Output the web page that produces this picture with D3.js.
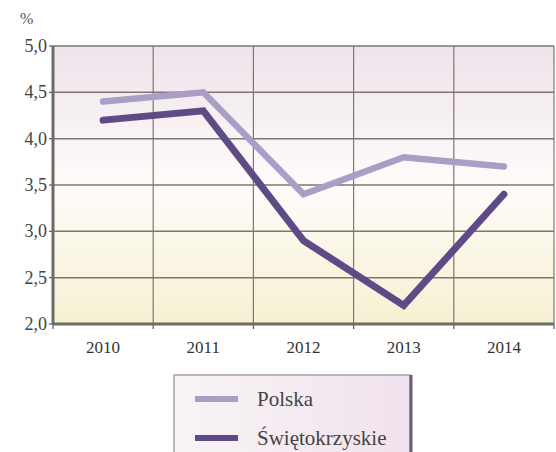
<!DOCTYPE html>
<html>
<head>
<script src="https://cdn.jsdelivr.net/npm/d3@7"></script>
</head>
<body style="margin:0">
<svg id="chart" width="556" height="452"></svg>
<script>
// data
let years = ['2010', '2011', '2012', '2013', '2014'];
let polska = [4.4, 4.5, 3.4, 3.8, 3.7];
let swietokrzyskie = [4.2, 4.3, 2.9, 2.2, 3.4];
let yTicks = [2.0, 2.5, 3.0, 3.5, 4.0, 4.5, 5.0];
let seriesNames = ['Polska', 'Świętokrzyskie'];
let seriesColors = ['#aa9dc6', '#5e4b86'];

let svg = d3.select('#chart');
let margin = {top: 46, right: 2, bottom: 128, left: 53};
let width = 556 - margin.left - margin.right;
let height = 452 - margin.top - margin.bottom;

// background gradients
let defs = svg.append('defs');
let grad = defs.append('linearGradient')
    .attr('id', 'bgGrad')
    .attr('x1', 0).attr('y1', 0).attr('x2', 0).attr('y2', 1);
grad.append('stop').attr('offset', '0%').attr('stop-color', '#eee3eb');
grad.append('stop').attr('offset', '50%').attr('stop-color', '#fefcfa');
grad.append('stop').attr('offset', '100%').attr('stop-color', '#f6f0d2');

let legGrad = defs.append('linearGradient')
    .attr('id', 'legGrad')
    .attr('x1', 0).attr('y1', 0).attr('x2', 1).attr('y2', 0);
legGrad.append('stop').attr('offset', '0%').attr('stop-color', '#f8f4f6');
legGrad.append('stop').attr('offset', '100%').attr('stop-color', '#f0e2ed');

let g = svg.append('g')
    .attr('transform', 'translate(' + margin.left + ',' + margin.top + ')');

let x = d3.scaleBand().domain(years).range([0, width]);
let y = d3.scaleLinear().domain([2, 5]).range([height, 0]);

g.append('rect')
    .attr('width', width)
    .attr('height', height)
    .attr('fill', 'url(#bgGrad)');

// horizontal grid
g.selectAll('.hgrid')
    .data(yTicks.slice(1))
    .enter().append('line')
    .attr('x1', 0).attr('x2', width)
    .attr('y1', d => y(d)).attr('y2', d => y(d))
    .attr('stroke', '#7d776e')
    .attr('stroke-width', 1.5);

// vertical grid at band boundaries
let bounds = years.map(d => x(d)).slice(1).concat([width]);
g.selectAll('.vgrid')
    .data(bounds)
    .enter().append('line')
    .attr('x1', d => d).attr('x2', d => d)
    .attr('y1', 0).attr('y2', height)
    .attr('stroke', '#7d776e')
    .attr('stroke-width', 1.2);

// y tick labels
g.selectAll('.ylab')
    .data(yTicks)
    .enter().append('text')
    .attr('x', -6)
    .attr('y', d => y(d) + 6)
    .attr('text-anchor', 'end')
    .attr('font-family', 'Liberation Serif')
    .attr('font-size', 18)
    .attr('fill', '#444')
    .text(d => d3.format('.1f')(d).replace('.', ','));

g.selectAll('.ytick')
    .data(yTicks)
    .enter().append('line')
    .attr('x1', -4).attr('x2', 0)
    .attr('y1', d => y(d)).attr('y2', d => y(d))
    .attr('stroke', '#555')
    .attr('stroke-width', 1.2);

// x labels
g.selectAll('.xlab')
    .data(years)
    .enter().append('text')
    .attr('x', d => x(d) + x.bandwidth() / 2)
    .attr('y', height + 29)
    .attr('text-anchor', 'middle')
    .attr('font-family', 'Liberation Serif')
    .attr('font-size', 17)
    .attr('fill', '#333')
    .text(d => d);

g.selectAll('.xtick')
    .data([0].concat(bounds))
    .enter().append('line')
    .attr('x1', d => d).attr('x2', d => d)
    .attr('y1', height).attr('y2', height + 5)
    .attr('stroke', '#555')
    .attr('stroke-width', 1.2);

g.append('line')
    .attr('x1', 0).attr('x2', 0).attr('y1', 0).attr('y2', height)
    .attr('stroke', '#6e6a66').attr('stroke-width', 3);
g.append('line')
    .attr('x1', 0).attr('x2', width).attr('y1', height).attr('y2', height)
    .attr('stroke', '#6e6a66').attr('stroke-width', 3);

svg.append('text')
    .attr('x', 20).attr('y', 24)
    .attr('font-family', 'Liberation Serif')
    .attr('font-size', 16)
    .attr('fill', '#555')
    .text('%');

// lines
let line = d3.line()
    .x((d, i) => x(years[i]) + x.bandwidth() / 2)
    .y(d => y(d));

[polska, swietokrzyskie].forEach((s, i) => {
    g.append('path')
        .datum(s)
        .attr('d', line)
        .attr('fill', 'none')
        .attr('stroke', seriesColors[i])
        .attr('stroke-width', i === 0 ? 6.5 : 7)
        .attr('stroke-linecap', 'round');
});

// legend
let leg = svg.append('g').attr('transform', 'translate(174,375)');
leg.append('rect')
    .attr('width', 236).attr('height', 90)
    .attr('fill', 'url(#legGrad)')
    .attr('stroke', '#a8a0a8')
    .attr('stroke-width', 1.5);
leg.append('line')
    .attr('x1', 237).attr('x2', 237).attr('y1', 0).attr('y2', 90)
    .attr('stroke', '#6b5d75').attr('stroke-width', 3);

seriesNames.forEach((name, i) => {
    let row = leg.append('g').attr('transform', 'translate(0,' + (24 + i * 39) + ')');
    row.append('line')
        .attr('x1', 21).attr('x2', 64)
        .attr('stroke', seriesColors[i])
        .attr('stroke-width', 6);
    row.append('text')
        .attr('x', 83).attr('y', 7)
        .attr('font-family', 'Liberation Serif')
        .attr('font-size', 21)
        .attr('fill', '#444')
        .text(name);
});
</script>
</body>
</html>
